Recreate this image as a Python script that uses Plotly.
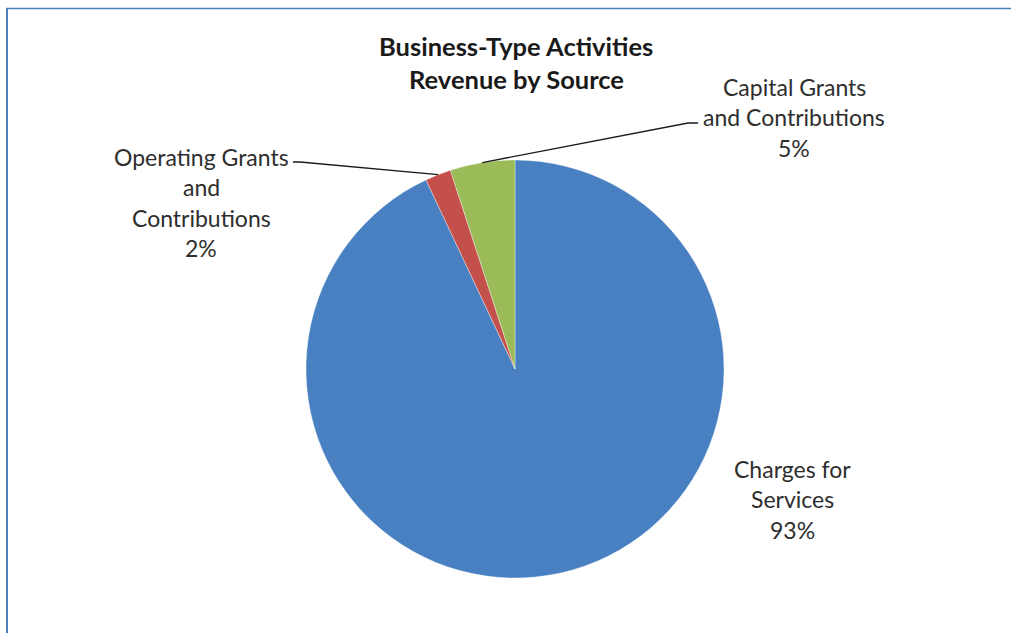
import math
import plotly.graph_objects as go

# Revenue shares by source (percent)
categories = ["Charges for Services", "Operating Grants and Contributions", "Capital Grants and Contributions"]
shares = [93, 2, 5]
slice_colors = ["#4880C1", "#C4504B", "#9BBB59"]

# Label text, one entry per line
label_lines = {
    "Charges for Services": ["Charges for", "Services"],
    "Operating Grants and Contributions": ["Operating Grants", "and", "Contributions"],
    "Capital Grants and Contributions": ["Capital Grants", "and Contributions"],
}
title_lines = ["Business-Type Activities", "Revenue by Source"]

W, H = 1011, 633
FONT = "Lato, Carlito, Calibri, sans-serif"
TEXT_COLOR = "#2e2e2e"

# Pie placement (pixels)
cx, cy, R = 515, 369, 209

fig = go.Figure()
fig.add_trace(go.Pie(
    labels=categories,
    values=shares,
    sort=False,
    direction="clockwise",
    rotation=0,
    marker=dict(colors=slice_colors, line=dict(color="rgba(255,255,255,0.6)", width=0.6)),
    textinfo="none",
    hoverinfo="label+percent",
    showlegend=False,
    domain=dict(x=[(cx - R) / W, (cx + R) / W], y=[1 - (cy + R) / H, 1 - (cy - R) / H]),
))

# Invisible pixel-scaled axes for overlay text and leader lines
fig.update_xaxes(range=[0, W], visible=False, fixedrange=True)
fig.update_yaxes(range=[H, 0], visible=False, fixedrange=True)


def edge_point(idx):
    total = sum(shares)
    start = sum(shares[:idx]) / total
    mid = start + shares[idx] / total / 2
    ang = mid * 2 * math.pi
    return cx + R * math.sin(ang), cy - R * math.cos(ang)


def add_lines(lines, x, y0, step=30.3, size=23, bold=False, color=TEXT_COLOR):
    for i, t in enumerate(lines):
        fig.add_annotation(
            x=x, y=y0 + i * step, xref="x", yref="y",
            text=f"<b>{t}</b>" if bold else t,
            showarrow=False, xanchor="center", yanchor="middle",
            font=dict(family=FONT, size=size, color=color),
        )


total = sum(shares)
pct = [f"{round(v / total * 100)}%" for v in shares]

# Title
add_lines(title_lines, 516, 46, step=33, size=25.5, bold=True, color="#1a1a1a")

# Data labels
add_lines(label_lines[categories[0]] + [pct[0]], 792, 469)
add_lines(label_lines[categories[1]] + [pct[1]], 201, 157)
add_lines(label_lines[categories[2]] + [pct[2]], 794, 87)

# Leader lines from slice edges to labels
ex, ey = edge_point(1)
fig.add_shape(type="path", xref="x", yref="y",
              path=f"M {ex:.1f},{ey:.1f} L 300,162 L 293,162",
              line=dict(color="#1a1a1a", width=1.3))
ex, ey = edge_point(2)
fig.add_shape(type="path", xref="x", yref="y",
              path=f"M {ex:.1f},{ey:.1f} L 688,123 L 698,123",
              line=dict(color="#1a1a1a", width=1.3))

# Chart-area frame (left and top edges visible)
fig.add_shape(type="line", xref="x", yref="y", x0=7, x1=7, y0=8, y1=H + 5,
              line=dict(color="#4A7EBB", width=2))
fig.add_shape(type="line", xref="x", yref="y", x0=6, x1=W + 5, y0=8.5, y1=8.5,
              line=dict(color="#4A7EBB", width=1.5))

fig.update_layout(
    width=W, height=H,
    margin=dict(l=0, r=0, t=0, b=0),
    paper_bgcolor="white", plot_bgcolor="white",
)

fig.write_html("out.html", config={"displayModeBar": False})
